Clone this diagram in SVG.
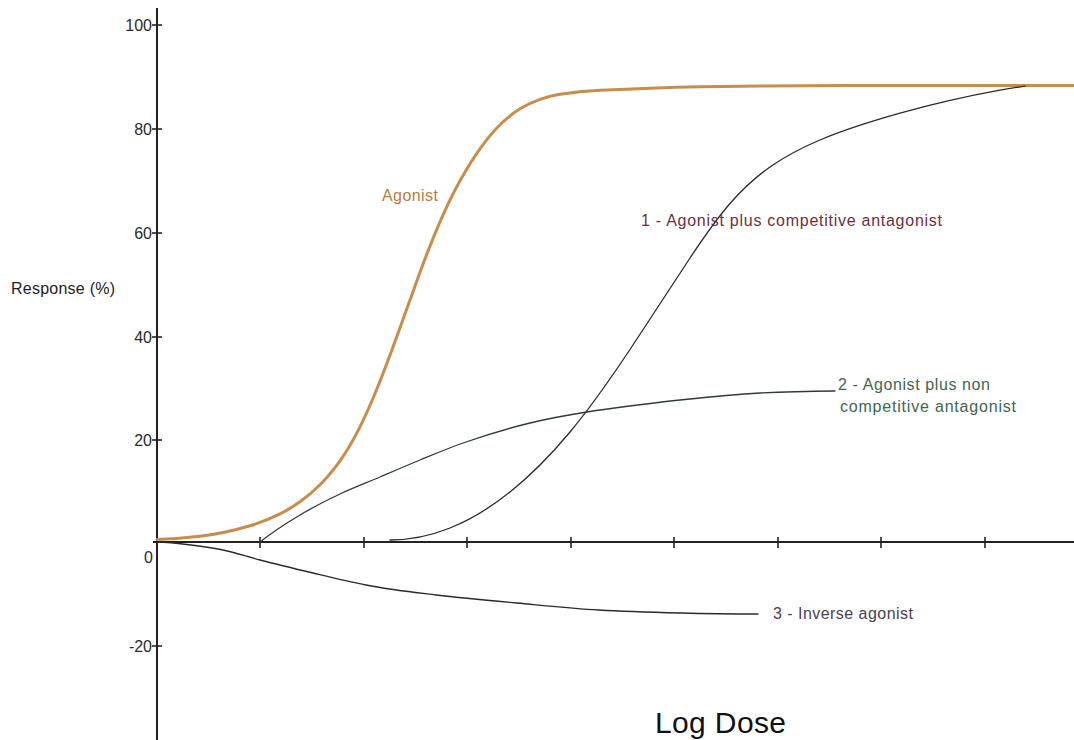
<svg xmlns="http://www.w3.org/2000/svg" width="1074" height="740" viewBox="0 0 1074 740">
<style>
.axis{stroke:#222;stroke-width:2;fill:none}
.tick{stroke:#222;stroke-width:1.6}
.num{font-family:"Liberation Sans",Arial,sans-serif;font-size:16px;fill:#2a2a2a}
.lbl{font-family:"Liberation Sans",Arial,sans-serif;font-size:16px}
.curve{fill:none;stroke-linejoin:round;stroke-linecap:round}
</style>
<rect width="1074" height="740" fill="#ffffff"/>
<g id="axes">
<line class="axis" x1="157" y1="8" x2="157" y2="740"/>
<line class="axis" x1="153" y1="542" x2="1074" y2="542"/>
<g class="tick">
<line x1="152" y1="25" x2="162" y2="25"/>
<line x1="152" y1="129" x2="162" y2="129"/>
<line x1="152" y1="233" x2="162" y2="233"/>
<line x1="152" y1="337" x2="162" y2="337"/>
<line x1="152" y1="440" x2="162" y2="440"/>
<line x1="152" y1="646" x2="162" y2="646"/>
<line x1="260" y1="537" x2="260" y2="548"/>
<line x1="364" y1="537" x2="364" y2="548"/>
<line x1="467" y1="537" x2="467" y2="548"/>
<line x1="571" y1="537" x2="571" y2="548"/>
<line x1="674" y1="537" x2="674" y2="548"/>
<line x1="778" y1="537" x2="778" y2="548"/>
<line x1="881" y1="537" x2="881" y2="548"/>
<line x1="985" y1="537" x2="985" y2="548"/>
</g>
<g class="num" text-anchor="end">
<text x="152" y="31">100</text>
<text x="152" y="135">80</text>
<text x="152" y="239">60</text>
<text x="152" y="343">40</text>
<text x="152" y="446">20</text>
<text x="153" y="563">0</text>
<text x="152" y="652">-20</text>
</g>
<text id="ylabel" class="lbl" x="11" y="294" fill="#222" textLength="104">Response (%)</text>
<text id="xlabel" x="655" y="733" font-family="Liberation Sans, Arial, sans-serif" font-size="30" fill="#111" textLength="131">Log Dose</text>
</g>
<g id="connectors">
<path id="agonist-curve" class="curve" stroke="#C68D4B" stroke-width="3" d="M157,539.5 C171.3,539.1 185.7,538 200,536.3 C216.7,534.3 233.3,530.8 250,525.8 C260,522.8 270,518.8 280,513.8 C286.7,510.5 293.3,506.5 300,501.8 C306.7,497.1 313.3,491.5 320,484.8 C326.7,478.1 333.3,470.1 340,460.8 C346.7,451.5 353.3,440.1 360,426.8 C366.7,413.5 373.3,398.3 380,381.3 C386.7,364.3 393.3,346.5 400,327.8 C406.7,309.1 413.3,290.6 420,272.3 C426.7,254 433.3,237.1 440,221.8 C446.7,206.5 453.3,192.8 460,180.8 C466.7,168.8 473.3,158.1 480,148.8 C486.7,139.5 493.3,131.5 500,124.8 C506.7,118.1 513.3,112.8 520,108.8 C526.7,104.8 533.3,101.6 540,99.3 C546.7,97 553.3,95.3 560,94.3 C573.3,92.3 586.7,91 600,90.3 C616.7,89.5 633.3,88.8 650,88.2 C666.7,87.6 683.3,87.1 700,86.8 C720,86.4 740,86.2 760,86 C790,85.8 820,85.7 850,85.6 L1074,85.5"/>
<path id="curve1" class="curve" stroke="#2a2a2a" stroke-width="1.3" d="M390,540 C410,540 430,536 450,528 C470,520 490,508 510,492 C530,476 550,456 570,432 C590,408 610,379.5 630,349.5 C650,319.5 670,288 690,258 C703.3,238 716.7,218.8 730,203.5 C743.3,188.2 756.7,176.3 770,167 C786.7,155.3 803.3,147 820,140 C846.7,128.8 873.3,120.7 900,113.2 C933.3,103.9 966.7,96.2 1000,90.2 C1008.3,88.7 1016.7,87.35 1025,86.1"/>
<path id="curve2" class="curve" stroke="#2d3d35" stroke-width="1.3" d="M260,542 C273.3,531.3 286.7,523 300,515 C313.3,507 326.7,500.3 340,494 C353.3,487.7 366.7,482.7 380,477 C393.3,471.3 406.7,465.5 420,460 C434.3,454.1 448.7,448 463,443 C485.3,435.2 507.7,428.4 530,423 C549,418.4 568,415 587,412 C618,407 649,403.4 680,400 C706.7,397.1 733.3,394.3 760,393 C785,391.75 810,391.25 835,391"/>
<path id="curve3" class="curve" stroke="#2a2a2a" stroke-width="1.3" d="M157,542 C168.3,542.2 179.7,543.6 191,545 C201.7,546.3 212.3,547.7 223,550 C235.3,552.7 247.7,556.8 260,560 C277.7,564.6 295.3,568.8 313,573 C330.7,577.2 348.3,581.5 366,585 C389.3,589.7 412.7,592.2 436,595 C463,598.2 490,600.6 517,603 C544.3,605.5 571.7,608.4 599,610 C626.3,611.6 653.7,612.3 681,613 C706.7,613.6 732.3,613.9 758,614"/>
</g>
<g id="label-agonist"><text class="lbl" x="382" y="201" fill="#B97C3C" textLength="56">Agonist</text></g>
<g id="label-1"><text class="lbl" x="641" y="226" fill="#6E2F3E" textLength="301">1 - Agonist plus competitive antagonist</text></g>
<g id="label-2"><text class="lbl" x="838" y="390" fill="#3F6650" textLength="152">2 - Agonist plus non</text><text class="lbl" x="840" y="412" fill="#3F6650" textLength="176">competitive antagonist</text></g>
<g id="label-3"><text class="lbl" x="773" y="619" fill="#4D4050" textLength="140">3 - Inverse agonist</text></g>
</svg>
